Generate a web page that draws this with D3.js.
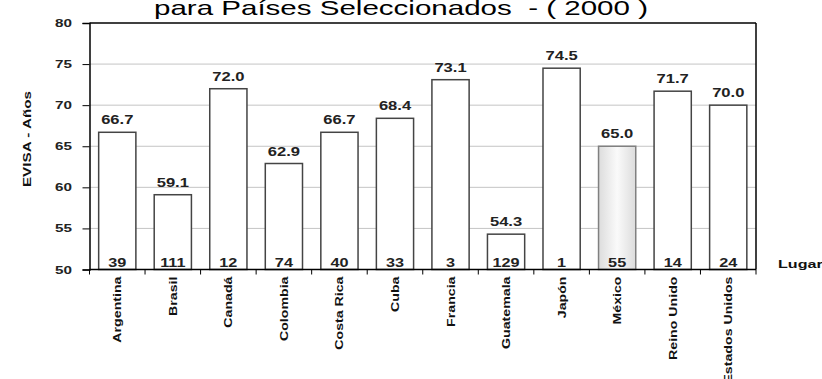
<!DOCTYPE html>
<html><head><meta charset="utf-8">
<script src="https://cdn.jsdelivr.net/npm/d3@7"></script>
<style>body{margin:0;background:#fff}svg{display:block;font-family:Arial,"Liberation Sans",sans-serif}</style>
</head><body><svg id="c" width="822" height="379"></svg>
<script>
const categories=["Argentina","Brasil","Canadá","Colombia","Costa Rica","Cuba","Francia","Guatemala","Japón","México","Reino Unido","Estados Unidos"];
const evisa=[66.7,59.1,72.0,62.9,66.7,68.4,73.1,54.3,74.5,65.0,71.7,70.0];
const lugar=[39,111,12,74,40,33,3,129,1,55,14,24];
const yTicks=[50,55,60,65,70,75,80];
const highlight="México";
const titleText="para Países Seleccionados  - ( 2000 )";
const yTitle="EVISA - Años";
const rankTitle="Lugar";

const svg=d3.select("#c");
const L=89.5,R=756,T=23,B=269.5;
const SX=1.38; // horizontal text stretch seen in reference
const x=d3.scaleBand().domain(categories).range([L,R]).paddingInner(0.33).paddingOuter(0.165);
const y=d3.scaleLinear().domain([50,80]).range([B,T]);

const defs=svg.append("defs");
const g=defs.append("linearGradient").attr("id","mx").attr("x1","0").attr("x2","1");
g.append("stop").attr("offset","0").attr("stop-color","#dcdcdc");
g.append("stop").attr("offset","0.5").attr("stop-color","#fafafa");
g.append("stop").attr("offset","1").attr("stop-color","#dcdcdc");

// title (second line, partly cut at top as in reference)
svg.append("text").attr("x",154).attr("y",15)
  .attr("font-size",21).attr("fill","#000")
  .attr("textLength",494).attr("lengthAdjust","spacingAndGlyphs")
  .style("white-space","pre").text(titleText);

// grid
svg.append("g").selectAll("line").data(yTicks.filter(d=>d>50&&d<80)).join("line")
  .attr("x1",L).attr("x2",R).attr("y1",d=>y(d)).attr("y2",d=>y(d))
  .attr("stroke","#c4c4c4").attr("stroke-width",1);

// bars
svg.append("g").selectAll("rect").data(categories).join("rect")
  .attr("x",d=>x(d)).attr("width",x.bandwidth())
  .attr("y",(d,i)=>y(evisa[i])).attr("height",(d,i)=>B-y(evisa[i]))
  .attr("fill",d=>d===highlight?"url(#mx)":"#fff")
  .attr("stroke",d=>d===highlight?"#808080":"#444").attr("stroke-width",1.5);

// value labels
svg.append("g").selectAll("text").data(categories).join("text")
  .attr("transform",(d,i)=>`translate(${x(d)+x.bandwidth()/2},${y(evisa[i])-8}) scale(${SX},1)`)
  .attr("text-anchor","middle").attr("font-size",12).attr("font-weight","bold").attr("fill","#222")
  .text((d,i)=>evisa[i].toFixed(1));

// rank labels
svg.append("g").selectAll("text").data(categories).join("text")
  .attr("transform",d=>`translate(${x(d)+x.bandwidth()/2},${B-3}) scale(1.3,1)`)
  .attr("text-anchor","middle").attr("font-size",12.5).attr("font-weight","bold").attr("fill","#222")
  .text((d,i)=>lugar[i]);

// frame
svg.append("line").attr("x1",L).attr("x2",R).attr("y1",T).attr("y2",T).attr("stroke","#000").attr("stroke-width",1.5);
svg.append("line").attr("x1",R).attr("x2",R).attr("y1",T).attr("y2",B).attr("stroke","#000").attr("stroke-width",1.5);

// y axis
const ya=svg.append("g").attr("transform",`translate(${L},0)`)
  .call(d3.axisLeft(y).tickValues(yTicks).tickSize(7).tickFormat(""));
ya.select(".domain").attr("stroke","#000").attr("stroke-width",1.5);
ya.selectAll(".tick line").attr("stroke","#000");
svg.append("g").selectAll("text").data(yTicks).join("text")
  .attr("transform",d=>`translate(72,${y(d)+4}) scale(1.45,1)`)
  .attr("text-anchor","end").attr("font-size",10.5).attr("font-weight","bold").attr("fill","#222")
  .text(d3.format("d"));

// x axis line + ticks at band edges
svg.append("line").attr("x1",L).attr("x2",R).attr("y1",B).attr("y2",B).attr("stroke","#000").attr("stroke-width",1.5);
svg.append("g").selectAll("line").data(d3.range(categories.length+1)).join("line")
  .attr("x1",i=>L+i*x.step()).attr("x2",i=>L+i*x.step())
  .attr("y1",B).attr("y2",B+5).attr("stroke","#000");

// x labels
svg.append("g").selectAll("text").data(categories).join("text")
  .attr("transform",d=>`translate(${x(d)+x.bandwidth()/2+4},${B+7}) rotate(-90) scale(1.35,1)`)
  .attr("text-anchor","end").attr("font-size",10.5).attr("font-weight","bold").attr("fill","#111")
  .text(d=>d);

// y title
svg.append("text").attr("transform","translate(31,139) rotate(-90) scale(1.45,1)").attr("text-anchor","middle")
  .attr("font-size",10.5).attr("font-weight","bold").attr("fill","#111").text(yTitle);

// Lugar
svg.append("text").attr("transform",`translate(778,${B-2}) scale(1.4,1)`)
  .attr("font-size",11.5).attr("font-weight","bold").attr("fill","#111").text(rankTitle);
</script></body></html>
